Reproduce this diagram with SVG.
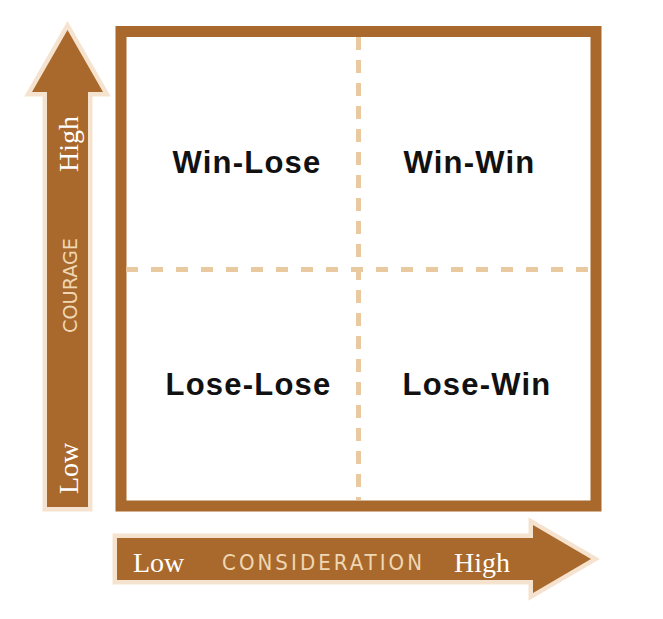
<svg xmlns="http://www.w3.org/2000/svg" width="663" height="619" viewBox="0 0 663 619">
<style>
.arrow{fill:#a9692c;stroke:#f5e3d0;stroke-width:9;stroke-linejoin:miter;paint-order:stroke}
.frame{fill:#ffffff;stroke:#a9692c;stroke-width:11}
.div{stroke:#e9c9a0;stroke-width:5;fill:none}
.q{font-family:"Liberation Sans",Arial,sans-serif;font-weight:bold;font-size:31px;fill:#111;text-anchor:middle;letter-spacing:1.2px}
.serif{font-family:"Liberation Serif","Times New Roman",serif;font-size:28px;fill:#ffffff}
.axis{font-family:"DejaVu Sans Condensed","Liberation Sans",Arial,sans-serif;font-size:22px;fill:#efd7b3}
</style>
<rect width="663" height="619" fill="#ffffff"/>
<g id="courage-axis">
<polygon class="arrow" points="47,507 47,92 32,92 67.5,30 103,92 88,92 88,507"/>
<text class="serif" transform="translate(78,172) rotate(-90)">High</text>
<text class="axis" style="font-size:20px" transform="translate(77,333) rotate(-90)" textLength="95" lengthAdjust="spacingAndGlyphs">COURAGE</text>
<text class="serif" transform="translate(78,494) rotate(-90)">Low</text>
</g>
<g id="consideration-axis">
<polygon class="arrow" points="117,538 533,538 533,525 591,559 533,593 533,580 117,580"/>
<text class="serif" x="133" y="572">Low</text>
<text class="axis" x="222" y="570" textLength="200" lengthAdjust="spacing">CONSIDERATION</text>
<text class="serif" x="454" y="572">High</text>
</g>
<g id="grid">
<rect id="frame" class="frame" x="121" y="31.5" width="475" height="474.5"/>
<g id="connectors">
<line class="div" x1="358.5" y1="37" x2="358.5" y2="500" stroke-dasharray="13 10"/>
<line class="div" x1="126" y1="269.5" x2="591" y2="269.5" stroke-dasharray="12 13"/>
</g>
</g>
<g id="win-lose"><text class="q" x="247" y="173">Win-Lose</text></g>
<g id="win-win"><text class="q" x="469.5" y="173">Win-Win</text></g>
<g id="lose-lose"><text class="q" x="248.5" y="395">Lose-Lose</text></g>
<g id="lose-win"><text class="q" x="477" y="395">Lose-Win</text></g>
</svg>
